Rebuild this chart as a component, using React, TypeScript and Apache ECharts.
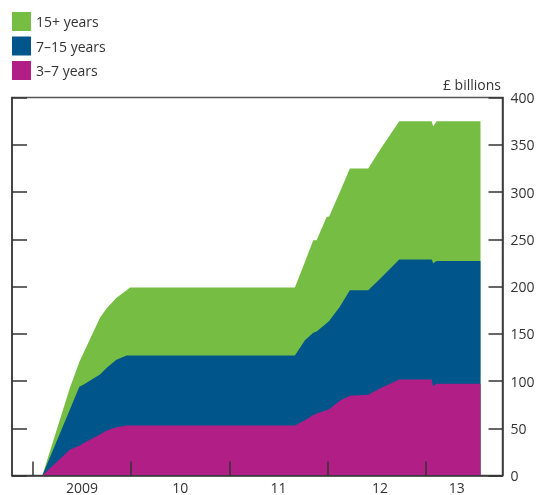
import React, { useEffect, useRef } from "react";
import * as echarts from "echarts";

// Decimal-year dates of the readings
const dates = [
  2009.095, 2009.377, 2009.472, 2009.512, 2009.682, 2009.751, 2009.85, 2009.954,
  2009.988, 2011.668, 2011.77, 2011.855, 2011.889, 2011.991, 2012.017, 2012.126,
  2012.228, 2012.415, 2012.534, 2012.731, 2013.061, 2013.077, 2013.112, 2013.559,
];
// £ billions held by maturity bucket
const years3to7 = [
  0, 27.5, 31.5, 34, 43.5, 47.5, 51, 53, 53, 53, 58.5, 64, 65.5, 69, 70, 79,
  84.5, 85.5, 92, 101.5, 101.5, 94.5, 97, 97,
];
const years7to15 = [
  0, 42.5, 62.5, 62, 63.5, 66.5, 71.5, 74, 74, 74, 84.5, 87, 87, 92, 93.5, 99.5,
  111.5, 110.5, 116, 127, 127, 130, 130, 130,
];
const years15plus = [
  0, 23, 26, 33, 60, 63, 65.5, 69, 72, 72, 83, 98, 96.5, 112.5, 110.5, 121.5,
  129, 129, 136.5, 146.5, 146.5, 145, 148, 148,
];

const seriesNames = ["3\u20137 years", "7\u201315 years", "15+ years"];
const legendOrder = ["15+ years", "7\u201315 years", "3\u20137 years"];
const yearTicks = [2009, 2010, 2011, 2012, 2013];
const yearLabelPos = [2009.5, 2010.5, 2011.5, 2012.534, 2013.316];
const yearLabels = ["2009", "10", "11", "12", "13"];
const yTicks = [0, 50, 100, 150, 200, 250, 300, 350, 400];

const FONT = "'Open Sans', 'Noto Sans', sans-serif";
const TEXT = "#333333";
const AXIS = "#333333";

export default function App() {
  const ref = useRef<HTMLDivElement>(null);
  useEffect(() => {
    if (!ref.current) return;
    const chart = echarts.init(ref.current, null, { renderer: "svg" });
    const colors = ["#B01E86", "#00568B", "#76BD43"];
    const buckets = [years3to7, years7to15, years15plus];
    // cumulative tops (stacking done here)
    const cum = buckets.map((_, si) =>
      dates.map((_, i) => {
        let s = 0;
        for (let k = 0; k <= si; k++) s += buckets[k][i];
        return s;
      })
    );
    chart.setOption({
      animation: false,
      textStyle: { fontFamily: FONT },
      legend: {
        data: legendOrder,
        orient: "vertical",
        left: 12,
        top: 12,
        itemWidth: 19,
        itemHeight: 19,
        itemGap: 5.5,
        icon: "rect",
        padding: 0,
        textStyle: { fontSize: 14, color: TEXT, fontFamily: FONT },
      },
      grid: {
        left: 12,
        right: 36.5,
        top: 97.5,
        bottom: 19.5,
        show: true,
        borderColor: "#555555",
        borderWidth: 1.5,
        backgroundColor: "transparent",
      },
      graphic: [
        {
          type: "text",
          right: 38,
          top: 77,
          style: {
            text: "\u00a3 billions",
            fill: TEXT,
            font: `14px ${FONT}`,
          },
        },
      ],
      xAxis: {
        type: "value",
        min: 2008.786,
        max: 2013.783,
        z: 10,
        axisLine: { show: true, lineStyle: { color: AXIS, width: 1.5 } },
        axisTick: {
          show: true,
          inside: true,
          length: 14,
          customValues: yearTicks,
          lineStyle: { color: AXIS, width: 1.5 },
        },
        axisLabel: {
          show: true,
          customValues: yearLabelPos,
          margin: 4,
          fontSize: 14,
          lineHeight: 15,
          color: TEXT,
          fontFamily: FONT,
          formatter: (v: number) => {
            const i = yearLabelPos.findIndex((p) => Math.abs(p - v) < 1e-6);
            return i >= 0 ? yearLabels[i] : "";
          },
        },
        splitLine: { show: false },
      },
      yAxis: [
        {
          type: "value",
          position: "left",
          min: 0,
          max: 400,
          interval: 50,
          z: 10,
          axisLine: { show: true, lineStyle: { color: AXIS, width: 1.5 } },
          axisTick: {
            show: true,
            inside: true,
            length: 15,
            lineStyle: { color: AXIS, width: 1.5 },
          },
          axisLabel: { show: false },
          splitLine: { show: false },
        },
        {
          type: "value",
          position: "right",
          min: 0,
          max: 400,
          interval: 50,
          z: 10,
          axisLine: { show: true, lineStyle: { color: AXIS, width: 1.5 } },
          axisTick: {
            show: true,
            inside: true,
            length: 14,
            customValues: yTicks,
            lineStyle: { color: AXIS, width: 1.5 },
          },
          axisLabel: {
            show: true,
            margin: 8,
            fontSize: 14,
            color: TEXT,
            fontFamily: FONT,
          },
          splitLine: { show: false },
        },
      ],
      series: [2, 1, 0].map((si, order) => ({
        name: seriesNames[si],
        type: "line",
        yAxisIndex: 0,
        z: 2 + order,
        showSymbol: false,
        symbol: "none",
        color: colors[si],
        lineStyle: { width: 0 },
        areaStyle: { color: colors[si], opacity: 1, origin: "start" },
        data: dates.map((d, i) => [d, cum[si][i]]),
      })),
    });
    return () => chart.dispose();
  }, []);
  return (
    <div
      ref={ref}
      style={{ position: "fixed", left: 0, top: 0, width: 539, height: 495 }}
    />
  );
}
